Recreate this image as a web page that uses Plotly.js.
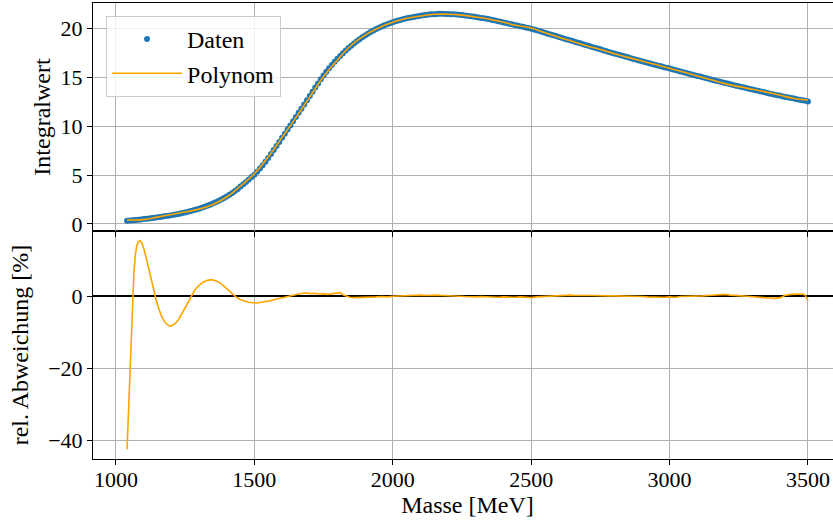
<!DOCTYPE html>
<html>
<head>
<meta charset="utf-8">
<script src="https://cdn.plot.ly/plotly-3.0.1.min.js"></script>
<style>
html,body{margin:0;padding:0;overflow:hidden;background:#fff;}
#chart{width:842px;height:525px;}
</style>
</head>
<body>
<div id="chart"></div>
<script>
// ---- Daten (Integralwert gegen Masse) ----
const masseDaten = [
1040,1050,1060,1070,1080,1090,1100,1110,1120,1130,1140,1150,1160,1170,1180,1190,1200,1210,1220,1230,
1240,1250,1260,1270,1280,1290,1300,1310,1320,1330,1340,1350,1360,1370,1380,1390,1400,1410,1420,1430,
1440,1450,1460,1470,1480,1490,1500,1510,1520,1530,1540,1550,1560,1570,1580,1590,1600,1610,1620,1630,
1640,1650,1660,1670,1680,1690,1700,1710,1720,1730,1740,1750,1760,1770,1780,1790,1800,1810,1820,1830,
1840,1850,1860,1870,1880,1890,1900,1910,1920,1930,1940,1950,1960,1970,1980,1990,2000,2010,2020,2030,
2040,2050,2060,2070,2080,2090,2100,2110,2120,2130,2140,2150,2160,2170,2180,2190,2200,2210,2220,2230,
2240,2250,2260,2270,2280,2290,2300,2310,2320,2330,2340,2350,2360,2370,2380,2390,2400,2410,2420,2430,
2440,2450,2460,2470,2480,2490,2500,2510,2520,2530,2540,2550,2560,2570,2580,2590,2600,2610,2620,2630,
2640,2650,2660,2670,2680,2690,2700,2710,2720,2730,2740,2750,2760,2770,2780,2790,2800,2810,2820,2830,
2840,2850,2860,2870,2880,2890,2900,2910,2920,2930,2940,2950,2960,2970,2980,2990,3000,3010,3020,3030,
3040,3050,3060,3070,3080,3090,3100,3110,3120,3130,3140,3150,3160,3170,3180,3190,3200,3210,3220,3230,
3240,3250,3260,3270,3280,3290,3300,3310,3320,3330,3340,3350,3360,3370,3380,3390,3400,3410,3420,3430,
3440,3450,3460,3470,3480,3490,3500
];
const integralDaten = [
0.32,0.35,0.38,0.41,0.44,0.47,0.50,0.535,0.57,0.605,0.64,0.68,0.72,0.765,0.81,0.855,0.90,0.95,1.00,1.06,
1.12,1.18,1.25,1.32,1.40,1.48,1.57,1.66,1.76,1.87,1.98,2.10,2.22,2.36,2.50,2.66,2.82,3.00,3.18,3.38,
3.58,3.85,4.07,4.30,4.55,4.80,5.05,5.36,5.68,6.02,6.38,6.76,7.16,7.57,7.99,8.41,8.83,9.25,9.68,10.10,
10.53,10.96,11.39,11.81,12.24,12.67,13.12,13.55,13.98,14.40,14.82,15.22,15.60,15.96,16.30,16.62,16.93,17.22,17.50,17.77,
18.02,18.26,18.49,18.71,18.92,19.12,19.31,19.49,19.66,19.82,19.97,20.11,20.24,20.36,20.47,20.57,20.67,20.76,20.85,20.93,
21.00,21.07,21.13,21.19,21.24,21.29,21.34,21.38,21.42,21.45,21.48,21.50,21.52,21.53,21.53,21.52,21.51,21.50,21.48,21.46,
21.43,21.40,21.37,21.33,21.29,21.25,21.20,21.16,21.11,21.07,21.02,20.97,20.91,20.85,20.78,20.72,20.65,20.59,20.52,20.46,
20.39,20.33,20.26,20.20,20.13,20.07,20.00,19.92,19.84,19.76,19.67,19.59,19.50,19.42,19.33,19.25,19.16,19.08,18.99,18.91,
18.82,18.74,18.65,18.57,18.48,18.40,18.31,18.23,18.14,18.06,17.97,17.89,17.80,17.72,17.63,17.55,17.47,17.39,17.31,17.23,
17.15,17.07,16.99,16.91,16.83,16.75,16.67,16.60,16.52,16.45,16.37,16.30,16.22,16.15,16.07,16.00,15.92,15.85,15.77,15.70,
15.62,15.55,15.47,15.40,15.32,15.25,15.17,15.10,15.02,14.95,14.87,14.80,14.73,14.66,14.59,14.52,14.45,14.38,14.31,14.24,
14.17,14.10,14.03,13.97,13.90,13.84,13.77,13.71,13.64,13.58,13.51,13.45,13.38,13.32,13.25,13.19,13.13,13.07,13.01,12.96,
12.90,12.85,12.79,12.74,12.68,12.62,12.55
];

// ---- Polynom-Fit ----
const masseFit = [
1040,1100,1150,1200,1250,1300,1350,1400,1450,1500,1550,1600,1650,1700,1750,1800,1850,1900,1950,2000,
2050,2100,2150,2200,2250,2300,2350,2400,2450,2500,2550,2600,2650,2700,2750,2800,2850,2900,2950,3000,
3050,3100,3150,3200,3250,3300,3350,3400,3450,3500
];
const integralFit = [
0.42,0.45,0.70,0.97,1.22,1.52,2.00,2.76,3.89,5.14,6.86,8.87,10.90,13.02,15.11,16.80,18.31,19.35,20.11,20.67,
21.07,21.30,21.48,21.49,21.40,21.20,20.97,20.66,20.33,20.08,19.59,19.13,18.70,18.27,17.87,17.45,17.07,16.69,16.33,15.96,
15.56,15.15,14.77,14.38,14.07,13.80,13.51,13.18,12.86,12.70
];

// ---- relative Abweichung [%] ----
const masseAbw = [
1040,1044,1048,1053,1058,1061,1065,1070,1075,1081,1087,1093,1100,1108,1117,1126,1135,1145,1155,1165,1175,1185,1195,
1205,1215,1225,1240,1255,1270,1285,1300,1315,1330,1345,1360,1375,1390,1405,1420,1435,1450,1465,1480,1495,1510,1525,
1540,1555,1570,1585,1600,1615,1630,1645,1660,1675,1690,1705,1720,1735,1750,1765,1780,1795,1810,1820,1830,1845,1860,
1880,1900,1920,1940,1960,1980,2000,2020,2040,2060,2080,2100,2120,2140,2160,2180,2200,2220,2240,2260,2280,2300,2320,
2340,2360,2380,2400,2420,2440,2460,2480,2500,2520,2540,2560,2580,2600,2620,2640,2660,2680,2700,2720,2740,2760,2780,
2800,2820,2840,2860,2880,2900,2920,2940,2960,2980,3000,3020,3040,3060,3080,3100,3120,3140,3160,3180,3200,3220,3240,
3260,3280,3300,3320,3340,3360,3380,3400,3420,3440,3460,3480,3490,3500
];
const abweichung = [
-42.5,-34.5,-25,-16,-6.5,0,7,11.5,14,15.2,15.4,14.8,13.4,11,8,4.8,1.7,-1,-3.6,-5.6,-7,-7.9,-8.3,
-8.1,-7.5,-6.6,-4.6,-2.4,-0.2,1.7,3,3.9,4.4,4.6,4.3,3.7,2.8,1.7,0.6,-0.3,-1,-1.4,-1.7,-1.8,-1.9,-1.7,
-1.6,-1.3,-1,-0.7,-0.4,-0.1,0.2,0.4,0.6,0.8,0.9,0.7,0.8,0.6,0.7,0.5,0.6,0.8,1.0,0.4,0.1,-0.3,-0.4,
-0.3,-0.2,-0.3,-0.2,-0.1,-0.2,0,0.1,0.2,0.3,0.2,0.3,0.2,0.3,0.3,0.2,0.2,0.1,0,-0.1,-0.2,-0.2,-0.1,
-0.2,-0.3,-0.3,-0.2,-0.3,-0.3,-0.2,-0.3,-0.4,-0.2,-0.1,0,0.2,0.2,0.3,0.3,0.2,0.3,0.2,0.2,0.1,0.1,0.1,
0.1,0.1,0,0,-0.1,-0.1,-0.2,-0.3,-0.2,-0.3,-0.2,-0.3,-0.1,-0.1,0,0.1,0.1,0.2,0.3,0.3,0.5,0.3,0.3,
0.1,0,-0.2,-0.3,-0.4,-0.5,-0.6,-0.4,0.3,0.5,0.6,0.6,0.3,-1.3
];

const topTicks = [0, 5, 10, 15, 20];
const botTicks = [-40, -20, 0];
const xTicks = [1000, 1500, 2000, 2500, 3000, 3500];

const FONT = "'Liberation Serif', 'Times New Roman', serif";
const BLUE = '#1f77b4', ORANGE = '#ffa500', GRID = '#b0b0b0';
const TITLEFONT = {family: FONT, size: 24, color: '#000'};

const traces = [
  {x: masseDaten, y: integralDaten, type: 'scatter', mode: 'markers', name: 'Daten',
   marker: {color: BLUE, size: 6}, xaxis: 'x2', yaxis: 'y2'},
  {x: masseFit, y: integralFit, type: 'scatter', mode: 'lines', name: 'Polynom',
   line: {color: ORANGE, width: 1.6, shape: 'spline'}, xaxis: 'x2', yaxis: 'y2'},
  {x: masseAbw, y: abweichung, type: 'scatter', mode: 'lines', showlegend: false,
   line: {color: ORANGE, width: 1.6}, xaxis: 'x', yaxis: 'y'}
];

const axCommon = {
  showline: true, linecolor: '#000', linewidth: 1, mirror: true,
  ticks: 'outside', ticklen: 5, tickwidth: 1, tickcolor: '#000',
  showgrid: true, gridcolor: GRID, gridwidth: 1,
  tickfont: {family: FONT, size: 22, color: '#000'}
};

const layout = {
  width: 842, height: 525,
  margin: {l: 93, r: 0, t: 3, b: 66},
  paper_bgcolor: '#fff', plot_bgcolor: '#fff',
  font: {family: FONT, size: 22, color: '#000'},
  showlegend: true,
  legend: {x: 0.0174, y: 0.9715, xanchor: 'left', yanchor: 'top',
           bgcolor: 'rgba(255,255,255,0.8)', bordercolor: '#cccccc', borderwidth: 1,
           font: TITLEFONT, itemwidth: 70},
  xaxis: Object.assign({}, axCommon, {
    domain: [0, 1], anchor: 'y', range: [917, 3623], tickvals: xTicks, zeroline: false,
    ticklabelstandoff: -4,
    title: {text: 'Masse [MeV]', font: TITLEFONT, standoff: 0}
  }),
  yaxis: Object.assign({}, axCommon, {
    domain: [0, 0.5], anchor: 'x', range: [-45.2, 18.1], tickvals: botTicks,
    zeroline: true, zerolinecolor: '#000', zerolinewidth: 1.5,
    title: {text: 'rel. Abweichung [%]', font: TITLEFONT, standoff: 12}
  }),
  xaxis2: Object.assign({}, axCommon, {
    domain: [0, 1], anchor: 'y2', matches: 'x', showticklabels: false, tickvals: xTicks, zeroline: false
  }),
  yaxis2: Object.assign({}, axCommon, {
    domain: [0.5, 1], anchor: 'x2', range: [-0.72, 22.64], tickvals: topTicks, zeroline: false,
    title: {text: 'Integralwert', font: TITLEFONT, standoff: 3}
  })
};

Plotly.newPlot('chart', traces, layout, {displayModeBar: false, staticPlot: true});
</script>
</body>
</html>
